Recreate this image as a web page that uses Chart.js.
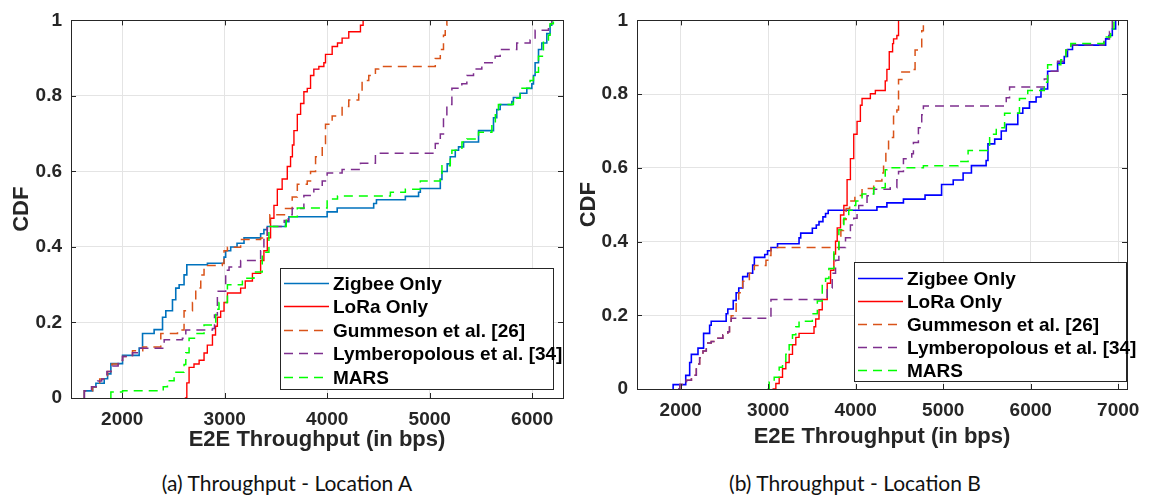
<!DOCTYPE html>
<html><head><meta charset="utf-8">
<script src="https://cdn.jsdelivr.net/npm/chart.js@4.4.0/dist/chart.umd.min.js"></script>
<style>
html,body{margin:0;padding:0;background:#fff;width:1152px;height:497px;overflow:hidden;position:relative}
#a{position:absolute;left:0;top:0;width:575px;height:458px}
#b{position:absolute;left:575px;top:0;width:577px;height:458px}
.cap{position:absolute;top:470px;font-family:Lato,'Liberation Sans',sans-serif;font-size:21px;line-height:25px;color:#111;white-space:nowrap;transform:translateX(-50%)}
</style></head><body>
<canvas id="a" width="575" height="458"></canvas>
<canvas id="b" width="577" height="458"></canvas>
<div class="cap" style="left:287px">(a) Throughput - Location A</div>
<div class="cap" style="left:855px">(b) Throughput - Location B</div>
<script>
// ---------- data ----------
const seriesNames = ['Zigbee Only','LoRa Only','Gummeson et al. [26]','Lymberopolous et al. [34]','MARS'];
const xTicksA = [2000,3000,4000,5000,6000];
const xTicksB = [2000,3000,4000,5000,6000,7000];
const yTicks = [0,0.2,0.4,0.6,0.8,1];
const yTickLabels = ['0','0.2','0.4','0.6','0.8','1'];
const xTitle = 'E2E Throughput (in bps)';
const yTitle = 'CDF';

// Location A  [throughput, CDF]
const zigbeeA = [[1630,0],[1630,0.019],[1711,0.029],[1743,0.039],[1824,0.051],[1857,0.064],[1889,0.091],[2003,0.113],[2165,0.132],[2198,0.171],[2311,0.181],[2393,0.214],[2425,0.231],[2490,0.26],[2522,0.291],[2555,0.300],[2603,0.326],[2630,0.353],[2831,0.357],[2993,0.373],[3009,0.39],[3058,0.40],[3120,0.41],[3188,0.424],[3350,0.435],[3382,0.446],[3415,0.454],[3593,0.467],[3626,0.480],[3999,0.493],[4097,0.503],[4453,0.515],[4480,0.525],[4762,0.534],[4891,0.545],[4908,0.555],[5103,0.579],[5119,0.60],[5170,0.62],[5200,0.639],[5249,0.656],[5281,0.665],[5330,0.678],[5476,0.708],[5622,0.742],[5654,0.764],[5687,0.777],[5801,0.785],[5816,0.796],[5882,0.807],[5947,0.820],[5996,0.832],[6012,0.854],[6028,0.888],[6061,0.923],[6093,0.94],[6142,0.965],[6174,0.987],[6190,1.0]];
const loraA = [[2610,0],[2630,0.04],[2652,0.081],[2700,0.09],[2750,0.10],[2798,0.119],[2830,0.14],[2880,0.167],[2910,0.19],[2928,0.214],[2960,0.23],[2993,0.253],[3026,0.278],[3155,0.291],[3200,0.31],[3270,0.33],[3350,0.364],[3382,0.39],[3415,0.424],[3447,0.476],[3480,0.51],[3513,0.553],[3560,0.58],[3610,0.613],[3642,0.639],[3660,0.67],[3675,0.708],[3708,0.751],[3740,0.78],[3772,0.811],[3805,0.82],[3837,0.854],[3869,0.871],[3918,0.878],[3967,0.888],[3983,0.91],[4048,0.931],[4100,0.94],[4145,0.953],[4210,0.97],[4324,0.987],[4350,1.0]];
const gummesonA = [[1630,0],[1630,0.019],[1711,0.03],[1780,0.05],[1857,0.07],[1900,0.09],[2003,0.11],[2100,0.125],[2200,0.135],[2376,0.171],[2539,0.18],[2603,0.231],[2685,0.253],[2717,0.291],[2766,0.326],[2798,0.351],[2976,0.356],[2993,0.39],[3026,0.399],[3155,0.42],[3350,0.424],[3415,0.459],[3440,0.485],[3593,0.502],[3658,0.532],[3708,0.566],[3805,0.575],[3837,0.60],[3886,0.639],[3951,0.674],[3983,0.725],[4048,0.747],[4145,0.772],[4210,0.789],[4307,0.807],[4340,0.841],[4405,0.854],[4470,0.871],[4502,0.878],[5054,0.899],[5103,0.923],[5134,0.961],[5151,0.987],[5167,1.0]];
const lymberA = [[1630,0],[1630,0.019],[1700,0.03],[1760,0.045],[1800,0.05],[1850,0.07],[1889,0.085],[1960,0.10],[2003,0.11],[2100,0.12],[2165,0.132],[2409,0.154],[2587,0.158],[2620,0.18],[2880,0.184],[2900,0.22],[2928,0.283],[3009,0.338],[3042,0.347],[3155,0.364],[3350,0.39],[3382,0.42],[3415,0.454],[3580,0.47],[3620,0.485],[3658,0.502],[3772,0.536],[3869,0.553],[3951,0.575],[3999,0.596],[4145,0.605],[4324,0.622],[4470,0.648],[5054,0.674],[5103,0.699],[5134,0.742],[5167,0.777],[5216,0.82],[5313,0.832],[5362,0.854],[5427,0.871],[5508,0.888],[5638,0.905],[5687,0.923],[5849,0.94],[5979,0.948],[6028,0.974],[6158,0.991],[6190,1.0]];
const marsA = [[1889,0],[1889,0.016],[2003,0.019],[2400,0.03],[2441,0.046],[2506,0.068],[2603,0.089],[2620,0.12],[2652,0.158],[2717,0.171],[2798,0.193],[2912,0.235],[2944,0.253],[3026,0.30],[3172,0.317],[3285,0.334],[3366,0.386],[3431,0.454],[3600,0.48],[3708,0.503],[3999,0.527],[4100,0.535],[4616,0.545],[4762,0.553],[4908,0.575],[5103,0.592],[5119,0.615],[5200,0.639],[5216,0.656],[5314,0.678],[5362,0.686],[5476,0.704],[5606,0.721],[5640,0.75],[5670,0.777],[5816,0.794],[5882,0.82],[5979,0.841],[6012,0.863],[6061,0.905],[6109,0.948],[6158,0.961],[6174,0.991],[6206,1.0]];

// Location B  [throughput, CDF]
const zigbeeB = [[1913,0],[1913,0.012],[2057,0.037],[2102,0.072],[2121,0.094],[2197,0.111],[2261,0.151],[2330,0.173],[2348,0.184],[2519,0.204],[2538,0.217],[2600,0.24],[2633,0.261],[2663,0.274],[2708,0.305],[2765,0.314],[2822,0.336],[2841,0.357],[2960,0.365],[2992,0.375],[3031,0.384],[3106,0.394],[3352,0.41],[3371,0.423],[3504,0.436],[3549,0.445],[3580,0.454],[3625,0.467],[3655,0.476],[3685,0.485],[4242,0.494],[4356,0.505],[4545,0.515],[4792,0.526],[4981,0.555],[5114,0.567],[5227,0.586],[5322,0.606],[5490,0.62],[5511,0.665],[5588,0.678],[5663,0.70],[5720,0.718],[5852,0.748],[5909,0.762],[5985,0.779],[6061,0.792],[6117,0.814],[6193,0.862],[6307,0.884],[6383,0.902],[6420,0.921],[6477,0.933],[6856,0.95],[6894,0.959],[6932,0.977],[6970,1.0]];
const loraB = [[3049,0],[3087,0.015],[3125,0.032],[3163,0.055],[3201,0.072],[3239,0.094],[3277,0.12],[3315,0.14],[3352,0.151],[3523,0.169],[3542,0.19],[3580,0.215],[3617,0.243],[3674,0.287],[3712,0.322],[3750,0.366],[3769,0.401],[3788,0.437],[3826,0.472],[3864,0.498],[3901,0.568],[3939,0.625],[3977,0.691],[4015,0.726],[4053,0.77],[4072,0.788],[4167,0.801],[4224,0.81],[4337,0.836],[4356,0.867],[4383,0.915],[4421,0.937],[4432,0.95],[4470,0.959],[4489,1.0]];
const gummesonB = [[1970,0],[1989,0.012],[2065,0.024],[2122,0.037],[2178,0.068],[2216,0.085],[2254,0.103],[2292,0.125],[2348,0.129],[2424,0.138],[2481,0.147],[2538,0.155],[2557,0.177],[2576,0.199],[2633,0.234],[2663,0.261],[2708,0.292],[2784,0.314],[2841,0.335],[2974,0.349],[3011,0.362],[3031,0.384],[3807,0.40],[3830,0.43],[3860,0.46],[3890,0.49],[3930,0.51],[3990,0.525],[4072,0.544],[4205,0.564],[4299,0.586],[4318,0.612],[4344,0.647],[4375,0.682],[4432,0.74],[4470,0.757],[4489,0.84],[4527,0.86],[4640,0.867],[4678,0.92],[4754,0.972],[4773,1.0]];
const lymberB = [[1970,0],[1989,0.012],[2065,0.024],[2122,0.037],[2178,0.068],[2216,0.085],[2254,0.103],[2292,0.125],[2348,0.129],[2424,0.138],[2481,0.147],[2538,0.155],[2557,0.177],[2576,0.192],[3031,0.243],[3674,0.274],[3731,0.314],[3769,0.349],[3807,0.384],[3883,0.41],[3939,0.445],[3977,0.463],[4015,0.485],[4034,0.498],[4129,0.524],[4205,0.542],[4394,0.546],[4470,0.568],[4489,0.59],[4545,0.625],[4640,0.638],[4659,0.669],[4716,0.709],[4754,0.744],[4773,0.768],[5720,0.79],[5758,0.819],[6155,0.841],[6193,0.862],[6307,0.889],[6402,0.92],[6458,0.933],[6837,0.95],[6900,0.97],[6932,1.0]];
const marsB = [[2992,0],[3011,0.019],[3068,0.032],[3125,0.059],[3163,0.075],[3201,0.094],[3239,0.12],[3277,0.147],[3315,0.169],[3352,0.184],[3504,0.204],[3561,0.239],[3617,0.283],[3655,0.30],[3693,0.327],[3750,0.375],[3807,0.432],[3864,0.463],[3920,0.485],[3958,0.498],[4000,0.51],[4072,0.529],[4205,0.546],[4337,0.595],[4356,0.60],[4773,0.606],[5170,0.617],[5284,0.647],[5530,0.691],[5606,0.709],[5701,0.748],[5871,0.788],[5966,0.81],[6155,0.832],[6193,0.88],[6344,0.893],[6402,0.92],[6458,0.937],[6837,0.955],[6913,0.977],[6951,1.0]];

// ---------- styling ----------
const FONT = "'Liberation Sans', Arial, sans-serif";
const AX = '#262626';
const GRID = '#e4e4e4';

const frame = {
  id: 'frame',
  afterDatasetsDraw(chart, args, o) {
    const {ctx, chartArea: a, scales: {x, y}} = chart;
    ctx.save();
    ctx.setLineDash([]);
    ctx.strokeStyle = AX; ctx.lineWidth = 1;
    ctx.beginPath();
    x.ticks.forEach(t => {
      const p = Math.round(x.getPixelForValue(t.value)) + 0.5;
      ctx.moveTo(p, a.bottom); ctx.lineTo(p, a.bottom - 5);
      ctx.moveTo(p, a.top); ctx.lineTo(p, a.top + 5);
    });
    y.ticks.forEach(t => {
      const p = Math.round(y.getPixelForValue(t.value)) + 0.5;
      ctx.moveTo(a.left, p); ctx.lineTo(a.left + 5, p);
      ctx.moveTo(a.right, p); ctx.lineTo(a.right - 5, p);
    });
    ctx.stroke();
    ctx.strokeRect(Math.round(a.left) + 0.5, Math.round(a.top) + 0.5, Math.round(a.right - a.left), Math.round(a.bottom - a.top));
    // legend box
    const L = o.legend;
    const bx = a.right - L.right - L.w, by = a.bottom - L.bottom - L.h;
    ctx.fillStyle = '#fff';
    ctx.fillRect(bx, by, L.w, L.h);
    ctx.strokeStyle = AX;
    ctx.strokeRect(Math.round(bx) + 0.5, Math.round(by) + 0.5, L.w, L.h);
    ctx.font = 'bold 19px ' + FONT;
    ctx.textBaseline = 'middle';
    ctx.textAlign = 'left';
    chart.data.datasets.forEach((ds, i) => {
      const cy = Math.round(by + L.first + i * L.gap) + 0.5;
      ctx.strokeStyle = ds.borderColor;
      ctx.lineWidth = ds.borderWidth;
      ctx.setLineDash(ds.borderDash || []);
      ctx.beginPath();
      ctx.moveTo(bx + L.l0, cy); ctx.lineTo(bx + L.l1, cy);
      ctx.stroke();
      ctx.fillStyle = '#000';
      ctx.fillText(ds.label, bx + L.tx, cy + 1);
    });
    ctx.restore();
  }
};

function makeDatasets(arrs, blue) {
  const colors = [blue, '#FF0000', '#D95319', '#7E2F8E', '#00FF00'];
  const widths = [1.6, 1.4, 1.5, 1.5, 1.5];
  const dashes = [[], [], [9, 6], [9, 6], [9, 6]];
  return arrs.map((arr, i) => ({
    label: seriesNames[i],
    data: arr.map(p => ({x: p[0], y: p[1]})),
    borderColor: colors[i],
    backgroundColor: colors[i],
    borderWidth: widths[i],
    borderDash: dashes[i],
    pointRadius: 0,
    stepped: 'before',
    fill: false,
    order: 5 - i
  }));
}

function makeChart(id, arrs, blue, cfg) {
  return new Chart(document.getElementById(id), {
    type: 'line',
    data: {datasets: makeDatasets(arrs, blue)},
    plugins: [frame],
    options: {
      responsive: false,
      animation: false,
      devicePixelRatio: 1,
      layout: {padding: {top: cfg.top, right: cfg.right, left: 0, bottom: 0}},
      plugins: {
        legend: {display: false},
        tooltip: {enabled: false},
        frame: {legend: cfg.legend}
      },
      scales: {
        x: {
          type: 'linear', min: cfg.xmin, max: cfg.xmax,
          afterBuildTicks: s => { s.ticks = cfg.xticks.map(v => ({value: v})); },
          afterFit: s => { s.height = cfg.xh; },
          ticks: {font: {family: FONT, size: 19, weight: 'bold'}, color: AX, padding: 10, maxRotation: 0, autoSkip: false,
                  callback: v => String(v)},
          grid: {color: GRID, drawTicks: false, lineWidth: 1},
          border: {display: false},
          title: {display: true, text: xTitle, color: AX, font: {family: FONT, size: 22, weight: 'bold'}, padding: {top: 0, bottom: cfg.xtp}}
        },
        y: {
          type: 'linear', min: 0, max: 1,
          afterBuildTicks: s => { s.ticks = yTicks.map(v => ({value: v})); },
          afterFit: s => { s.width = cfg.yw; },
          ticks: {font: {family: FONT, size: 19, weight: 'bold'}, color: AX, padding: 9, autoSkip: false,
                  callback: (v, i) => yTickLabels[i]},
          grid: {color: GRID, drawTicks: false, lineWidth: 1},
          border: {display: false},
          title: {display: true, text: yTitle, color: AX, font: {family: FONT, size: 22, weight: 'bold'}, padding: {top: cfg.ytp, bottom: 0}}
        }
      }
    }
  });
}

makeChart('a', [zigbeeA, loraA, gummesonA, lymberA, marsA], '#0072BD', {
  xmin: 1500, xmax: 6300, xticks: xTicksA, top: 10, right: 12, yw: 71, xh: 60, xtp: 5, ytp: 9,
  legend: {right: 10, bottom: 9, w: 273, h: 121, first: 14.5, gap: 23.5, l0: 4, l1: 49, tx: 53}
});
makeChart('b', [zigbeeB, loraB, gummesonB, lymberB, marsB], '#0000FF', {
  xmin: 1500, xmax: 7100, xticks: xTicksB, top: 10, right: 25, yw: 62, xh: 69, xtp: 8, ytp: 1,
  legend: {right: 1, bottom: 8, w: 272, h: 119, first: 15.5, gap: 23, l0: 4, l1: 49, tx: 53}
});
</script>
</body></html>
